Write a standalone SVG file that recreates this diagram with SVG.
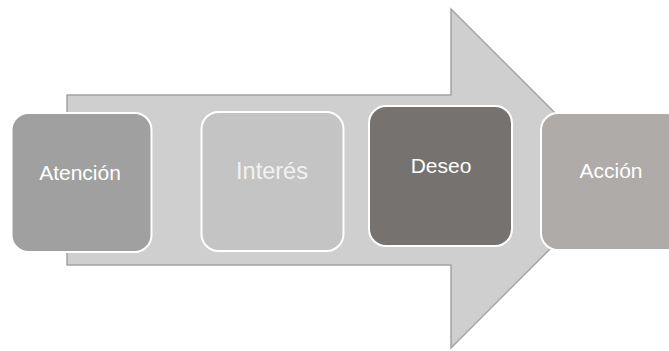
<svg xmlns="http://www.w3.org/2000/svg" width="669" height="351" viewBox="0 0 669 351">
<style>
.arrow{fill:#d0cfd0;stroke:#a4a4a4;stroke-width:1.5}
.box{stroke:#ffffff;stroke-width:2}
.lbl{font-family:"Liberation Sans",Arial,sans-serif;font-size:21px;fill:#ffffff;text-anchor:middle}
</style>
<rect width="669" height="351" fill="#ffffff"/>
<g id="connectors">
<polygon class="arrow" points="67,95 451,95 451,9 620.5,178.5 451,348 451,265 67,265"/>
</g>
<g id="atencion">
<rect class="box" x="11.5" y="113" width="140" height="139" rx="17" fill="#a0a0a0"/>
<text class="lbl" x="80" y="180">Atención</text>
</g>
<g id="interes">
<rect class="box" x="201.5" y="112" width="142" height="139" rx="17" fill="#c4c4c4"/>
<text class="lbl" x="272" y="179" style="font-size:24px;fill:#f2f2f2" textLength="72" lengthAdjust="spacingAndGlyphs">Interés</text>
</g>
<g id="deseo">
<rect class="box" x="369" y="106" width="143" height="140" rx="17" fill="#767270"/>
<text class="lbl" x="441" y="173">Deseo</text>
</g>
<g id="accion">
<rect class="box" x="541" y="113" width="142" height="137" rx="17" fill="#aeaba9"/>
<text class="lbl" x="611" y="178">Acción</text>
</g>
</svg>
